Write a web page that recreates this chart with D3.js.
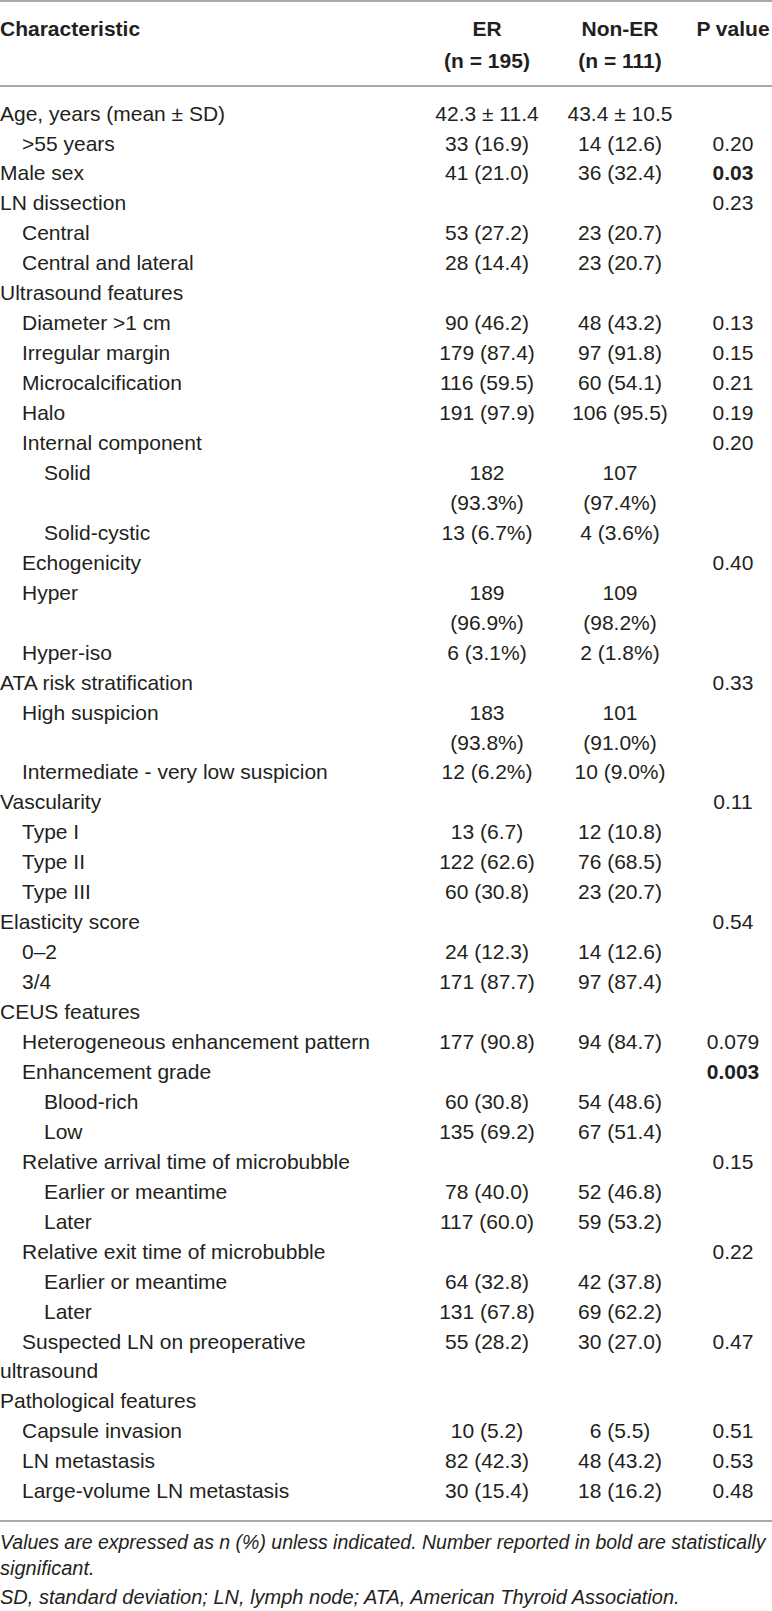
<!DOCTYPE html>
<html>
<head>
<meta charset="utf-8">
<script src="https://cdn.jsdelivr.net/npm/d3@7"></script>
<style>
  body { margin: 0; background: #fff; }
  svg text { font-family: "Liberation Sans", Arial, Helvetica, sans-serif; fill: #231f20; }
</style>
</head>
<body>
<script>
var width = 772,
    height = 1611,
    fontSize = 21;

// table content
var headers = [["Characteristic"], ["ER", "(n = 195)"], ["Non-ER", "(n = 111)"], ["P value"]];

var labels = [
  "Age, years (mean \u00b1 SD)", ">55 years", "Male sex", "LN dissection", "Central",
  "Central and lateral", "Ultrasound features", "Diameter >1 cm", "Irregular margin",
  "Microcalcification", "Halo", "Internal component", "Solid", "Solid-cystic",
  "Echogenicity", "Hyper", "Hyper-iso", "ATA risk stratification", "High suspicion",
  "Intermediate - very low suspicion", "Vascularity", "Type I", "Type II", "Type III",
  "Elasticity score", "0\u20132", "3/4", "CEUS features", "Heterogeneous enhancement pattern",
  "Enhancement grade", "Blood-rich", "Low", "Relative arrival time of microbubble",
  "Earlier or meantime", "Later", "Relative exit time of microbubble", "Earlier or meantime",
  "Later", "Suspected LN on preoperative ultrasound", "Pathological features",
  "Capsule invasion", "LN metastasis", "Large-volume LN metastasis"
];

var levels = [0, 1, 0, 0, 1, 1, 0, 1, 1, 1, 1, 1, 2, 2, 1, 1, 1, 0, 1, 1, 0, 1, 1, 1,
  0, 1, 1, 0, 1, 1, 2, 2, 1, 2, 2, 1, 2, 2, 1, 0, 1, 1, 1];

var erValues = [
  "42.3 \u00b1 11.4", "33 (16.9)", "41 (21.0)", "", "53 (27.2)", "28 (14.4)", "",
  "90 (46.2)", "179 (87.4)", "116 (59.5)", "191 (97.9)", "", "182 (93.3%)", "13 (6.7%)",
  "", "189 (96.9%)", "6 (3.1%)", "", "183 (93.8%)", "12 (6.2%)", "", "13 (6.7)",
  "122 (62.6)", "60 (30.8)", "", "24 (12.3)", "171 (87.7)", "", "177 (90.8)", "",
  "60 (30.8)", "135 (69.2)", "", "78 (40.0)", "117 (60.0)", "", "64 (32.8)", "131 (67.8)",
  "55 (28.2)", "", "10 (5.2)", "82 (42.3)", "30 (15.4)"
];

var nonErValues = [
  "43.4 \u00b1 10.5", "14 (12.6)", "36 (32.4)", "", "23 (20.7)", "23 (20.7)", "",
  "48 (43.2)", "97 (91.8)", "60 (54.1)", "106 (95.5)", "", "107 (97.4%)", "4 (3.6%)",
  "", "109 (98.2%)", "2 (1.8%)", "", "101 (91.0%)", "10 (9.0%)", "", "12 (10.8)",
  "76 (68.5)", "23 (20.7)", "", "14 (12.6)", "97 (87.4)", "", "94 (84.7)", "",
  "54 (48.6)", "67 (51.4)", "", "52 (46.8)", "59 (53.2)", "", "42 (37.8)", "69 (62.2)",
  "30 (27.0)", "", "6 (5.5)", "48 (43.2)", "18 (16.2)"
];

var pValues = [
  "", "0.20", "0.03", "0.23", "", "", "", "0.13", "0.15", "0.21", "0.19", "0.20", "", "",
  "0.40", "", "", "0.33", "", "", "0.11", "", "", "", "0.54", "", "", "", "0.079", "0.003",
  "", "", "0.15", "", "", "0.22", "", "", "0.47", "", "0.51", "0.53", "0.48"
];

var boldP = ["0.03", "0.003"];

var footnotes = [
  "Values are expressed as n (%) unless indicated. Number reported in bold are statistically significant.",
  "SD, standard deviation; LN, lymph node; ATA, American Thyroid Association."
];

var svg = d3.select("body").append("svg")
    .attr("width", width)
    .attr("height", height);

// measuring helper
var probe = svg.append("text").style("font-size", fontSize + "px").attr("visibility", "hidden");
function measure(str, italic) {
  probe.style("font-style", italic ? "italic" : "normal").text(str);
  return probe.node().getComputedTextLength();
}
function wrap(str, maxW, firstOffset, italic) {
  var words = str.split(" "), lines = [], cur = "";
  words.forEach(function(w) {
    var test = cur ? cur + " " + w : w;
    var off = lines.length ? 0 : firstOffset;
    if (cur && measure(test, italic) + off > maxW) { lines.push(cur); cur = w; }
    else cur = test;
  });
  if (cur) lines.push(cur);
  return lines;
}

var labelMax = 400, cellMax = 110, indent = 22;
var colX = { er: 487, non: 620, p: 733 };

var rows = labels.map(function(l, i) {
  var lab = wrap(l, labelMax, levels[i] * indent, false),
      er = erValues[i] ? wrap(erValues[i], cellMax, 0, false) : [],
      non = nonErValues[i] ? wrap(nonErValues[i], cellMax, 0, false) : [];
  return { label: lab, level: levels[i], er: er, non: non, p: pValues[i],
           n: Math.max(lab.length, er.length, non.length, 1) };
});
probe.remove();

var totalLines = d3.sum(rows, function(d) { return d.n; });
var y = d3.scaleLinear().domain([0, totalLines - 1]).range([113, 113 + (totalLines - 1) * 29.95]);

var start = 0;
rows.forEach(function(d) { d.start = start; start += d.n; });

// rules
var rules = [1, 86, 1521];
svg.selectAll(".rule")
  .data(rules)
  .enter().append("line")
    .attr("class", "rule")
    .attr("x1", 0).attr("x2", width)
    .attr("y1", function(d) { return d; }).attr("y2", function(d) { return d; })
    .attr("stroke", "#8c8c8c")
    .attr("stroke-width", 1.3);

// header
var headerX = [0, colX.er, colX.non, colX.p],
    headerY = [28, 60];
headers.forEach(function(h, c) {
  svg.append("g").selectAll("text")
    .data(h)
    .enter().append("text")
      .attr("x", headerX[c])
      .attr("y", function(d, k) { return headerY[k]; })
      .attr("dy", "0.36em")
      .attr("text-anchor", c === 0 ? "start" : "middle")
      .style("font-size", fontSize + "px")
      .style("font-weight", "bold")
      .text(function(d) { return d; });
});

// body rows
var row = svg.append("g").selectAll(".row")
  .data(rows)
  .enter().append("g")
    .attr("class", "row");

row.selectAll(".label")
  .data(function(d) { return d.label.map(function(t, k) { return { t: t, k: k, r: d }; }); })
  .enter().append("text")
    .attr("x", function(d) { return d.k === 0 ? d.r.level * indent : 0; })
    .attr("y", function(d) { return y(d.r.start + d.k); })
    .attr("dy", "0.36em")
    .style("font-size", fontSize + "px")
    .text(function(d) { return d.t; });

[["er", colX.er], ["non", colX.non]].forEach(function(col) {
  row.selectAll(".v-" + col[0])
    .data(function(d) { return d[col[0]].map(function(t, k) { return { t: t, k: k, r: d }; }); })
    .enter().append("text")
      .attr("x", col[1])
      .attr("y", function(d) { return y(d.r.start + d.k); })
      .attr("dy", "0.36em")
      .attr("text-anchor", "middle")
      .style("font-size", fontSize + "px")
      .text(function(d) { return d.t; });
});

row.filter(function(d) { return d.p; }).append("text")
    .attr("x", colX.p)
    .attr("y", function(d) { return y(d.start); })
    .attr("dy", "0.36em")
    .attr("text-anchor", "middle")
    .style("font-size", fontSize + "px")
    .style("font-weight", function(d) { return boldP.includes(d.p) ? "bold" : "normal"; })
    .text(function(d) { return d.p; });

// footnotes
var footSize = 20, footMax = 766;
probe = svg.append("text").style("font-size", footSize + "px").attr("visibility", "hidden");
var footLines = [], fy = 1542;
footnotes.forEach(function(f) {
  wrap(f, 810, 0, true).forEach(function(t) {
    var w = measure(t, true);
    footLines.push({ t: t, y: fy, size: w > footMax ? footSize * footMax / w : footSize });
    fy += 26;
  });
  fy += 3;
});
probe.remove();

svg.append("g").selectAll("text")
  .data(footLines)
  .enter().append("text")
    .attr("x", 0)
    .attr("y", function(d) { return d.y; })
    .attr("dy", "0.36em")
    .style("font-size", function(d) { return d.size + "px"; })
    .style("font-style", "italic")
    .text(function(d) { return d.t; });
</script>
</body>
</html>
